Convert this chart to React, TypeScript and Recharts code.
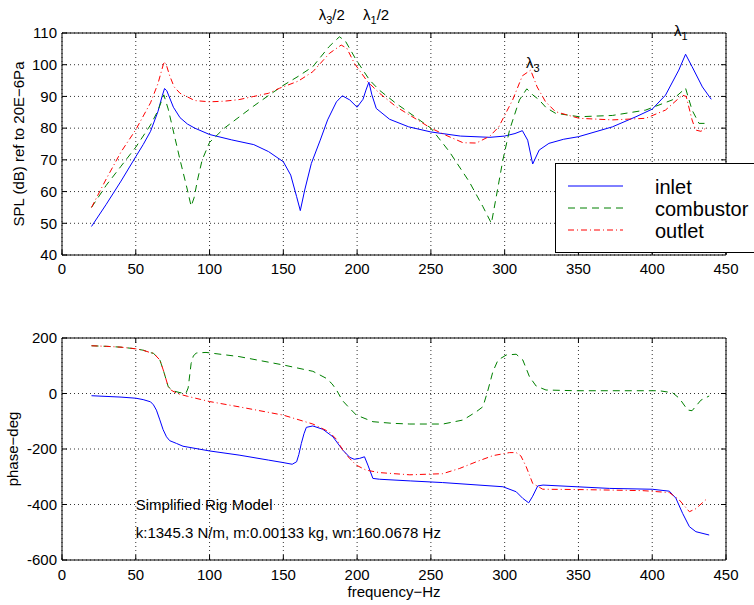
import React from 'react';
import {
  LineChart, Line, XAxis, YAxis, CartesianGrid, Legend, ReferenceDot,
} from 'recharts';

const FONT = '"Liberation Sans", Arial, Helvetica, sans-serif';

// ---------- axis ticks ----------
const freqTicks = [0, 50, 100, 150, 200, 250, 300, 350, 400, 450];
const splTicks = [40, 50, 60, 70, 80, 90, 100, 110];
const phaseTicks = [-600, -400, -200, 0, 200];

// ---------- series names (legend order) ----------
const seriesNames = ['inlet', 'combustor', 'outlet'];

// ---------- SPL (dB) : [frequency Hz, SPL] ----------
const inletSpl: [number, number][] = [
  [20, 49], [30, 56], [40, 63.3], [50, 71], [55, 74.8], [60, 79], [65, 85.2], [68, 90.3],
  [69.5, 92.5], [71, 91.8], [73, 89.5], [75.5, 86.6], [80, 83.3], [85, 81.3], [90, 80],
  [100, 78], [115, 76.3], [130, 74.8], [140, 72.6], [150, 69.4], [155, 65.2], [159, 58.4],
  [161.5, 54], [164.5, 60.5], [169, 68.9], [175, 76.2], [180, 82.6], [186, 88.3], [190, 90.2],
  [195, 88.9], [200, 86.6], [204, 89.1], [206, 92], [208, 94.5], [210, 90.5], [213, 86.2],
  [222, 82.8], [235, 80.4], [250, 78.8], [270, 77.5], [290, 77.1], [300, 77.5], [307, 78.3],
  [312, 79.2], [315.6, 76.2], [319, 68.7], [323.4, 73.1], [330, 75.2], [340, 76.5],
  [350, 77.3], [373, 80.4], [389, 83.6], [400, 86], [409, 90.4], [418, 98.3], [422.6, 103.3],
  [427, 99.4], [434, 93], [440, 89.1],
];
const combustorSpl: [number, number][] = [
  [20, 55], [30, 62], [40, 68], [50, 74], [60, 81], [65, 85.5], [69, 90.5], [72, 86], [75, 80],
  [80, 70], [85, 60.5], [87.5, 55.4], [89.5, 58], [92, 64], [95, 70], [100, 75.5], [110, 80],
  [120, 83.5], [130, 87], [140, 90.3], [150, 93.5], [160, 96.3], [170, 99.4], [181, 105.7],
  [188, 108.8], [192, 107.5], [199.4, 101.5], [208.4, 95.2], [215, 92], [226.4, 87.8],
  [250, 80], [262.5, 72.6], [276, 63.1], [285.3, 55.2], [291, 50], [294.3, 58.4], [298.8, 70],
  [303.3, 79.4], [310, 88.9], [315, 92.4], [319, 90.5], [323.4, 88.9], [328, 86.5],
  [334.4, 84.7], [350.5, 83.6], [373, 84], [395.6, 85.7], [413.6, 88.9], [422.6, 92.6],
  [427, 85.7], [431.7, 81.5], [436, 81.5],
];
const outletSpl: [number, number][] = [
  [20, 55], [30, 64], [40, 72.5], [50, 79.5], [60, 88], [65, 94], [69.2, 101], [71, 99.5],
  [73, 96.5], [76, 93], [80, 91], [90, 88.7], [100, 88.3], [110, 88.5], [120, 89], [130, 90],
  [140, 91], [147.5, 92.6], [160, 94.8], [170, 97.8], [181.3, 103.6], [189.2, 106.2],
  [193, 105.2], [198.2, 100.4], [207, 94.7], [215.2, 91], [226.6, 86.7], [250, 80],
  [260, 77.8], [271.8, 75.4], [280.8, 75.3], [290, 77.5], [296, 80.4], [305.4, 88.9],
  [312, 96.5], [317.6, 98.3], [322, 93], [327.6, 88.4], [334.4, 85.2], [350.5, 83.1],
  [373, 82.6], [395.6, 83.1], [409, 85.7], [420.4, 90.4], [423, 90], [427, 82.6],
  [429.4, 79.4], [433, 79], [436, 79.9],
];

// ---------- phase (deg) : [frequency Hz, phase] ----------
const inletPhase: [number, number][] = [
  [20, -8], [40, -13], [50, -17], [55, -22], [60, -30], [62, -41], [64, -60], [66.3, -95],
  [68.5, -130], [70.8, -156], [73, -170], [77.6, -180], [82, -190], [100, -207], [120, -222],
  [140, -240], [150, -249], [156, -255], [159, -246], [160.5, -220], [162.2, -180],
  [164, -145], [165.6, -122], [170, -117], [176.8, -129], [183.6, -156], [190.3, -204],
  [195, -230], [198, -237], [201.6, -234], [205, -228], [207.3, -258], [210.7, -306],
  [215.2, -309], [236, -315], [258, -321], [298.8, -336], [307.8, -354], [312.3, -378],
  [316.3, -394], [319, -370], [322.4, -333], [326, -330], [371, -342], [400, -345],
  [411.6, -352], [416, -377], [420.6, -432], [425.2, -480], [429.6, -498], [438.6, -510],
];
const combustorPhase: [number, number][] = [
  [20, 172], [30, 170], [40, 167], [50, 161], [55, 156], [60, 147], [62, 145], [66.3, 121],
  [68.6, 85], [72, 24.5], [75, 10], [80, 3], [84, 1], [85.5, 20], [87.5, 108], [89, 135],
  [91, 146], [97.6, 148], [120, 133], [149.8, 103], [170, 80], [179, 55], [183, 35],
  [186, 13], [190, -25], [194, -48], [199.4, -77.5], [210.7, -101.6], [224, -107.5],
  [235.7, -110], [258.2, -110], [271.8, -95.5], [280.8, -65.6], [285.3, -47.5], [288.7, 12.6],
  [292, 78.6], [295.5, 120.7], [301.1, 138.7], [307.8, 141.5], [312.3, 120.7], [316.8, 60.6],
  [321.3, 27], [328, 12.6], [348.4, 10], [404.8, 10], [413.8, 2.6], [418.4, -17.4],
  [424, -59.5], [427, -62], [433, -24], [438.6, -9],
];
const outletPhase: [number, number][] = [
  [20, 172], [30, 170], [40, 167], [50, 161], [55, 156], [60, 147], [62, 145], [66.3, 121],
  [68.6, 85], [72, 24.5], [74, 12], [78, 0], [85, -10], [100, -29], [120, -48], [150, -78],
  [170, -110], [181, -138], [186, -165], [190.3, -204], [194.9, -234], [199.4, -258],
  [206, -276], [215, -285], [235.7, -293], [258, -289], [269.5, -270], [280.8, -246],
  [292, -224], [303.3, -213], [307.8, -213], [311, -225], [314.6, -264], [319, -324],
  [325.8, -345], [348.4, -346], [393.6, -350], [411.6, -357], [418.4, -384], [425.2, -426],
  [429.6, -415], [437.5, -377],
];

// ---------- annotations ----------
const lambdaTags = [
  { f: 174, spl: 114.1, sub: '3', tail: '/2' },
  { f: 204, spl: 114.1, sub: '1', tail: '/2' },
  { f: 314.4, spl: 98.9, sub: '3', tail: '' },
  { f: 414.8, spl: 109.0, sub: '1', tail: '' },
];
const noteLines = [
  { f: 50, phase: -400, text: 'Simplified Rig Model' },
  { f: 50, phase: -500, text: 'k:1345.3 N/m, m:0.00133 kg, wn:160.0678 Hz' },
];

const seriesStyle: Record<string, { color: string; dash?: string }> = {
  inlet: { color: '#0000ff' },
  combustor: { color: '#008000', dash: '7 5' },
  outlet: { color: '#ff0000', dash: '6 3 1 3' },
};

const pts = (arr: [number, number][]) => arr.map(([f, v]) => ({ f, v }));

const tickStyle = { fontSize: 15, fill: '#000', fontFamily: FONT };

// layout of the two axes boxes (pixels)
const BOX_LEFT = 62;
const BOX_RIGHT = 726;
const BOX_H = 222;
const TOP_BOX_Y = 33;
const BOTTOM_BOX_Y = 338;

const LambdaTag = (props: any) => {
  const vb = props.viewBox || {};
  const x = vb.x + (vb.width || 0) / 2;
  const y = vb.y + (vb.height || 0) / 2;
  return (
    <text x={x} y={y} fontSize={15} fontFamily={FONT} fill="#000" textAnchor="start">
      <tspan>λ</tspan>
      <tspan fontSize={11} dy={4}>{props.sub}</tspan>
      {props.tail ? <tspan dy={-4}>{props.tail}</tspan> : null}
    </text>
  );
};

const NoteText = (props: any) => {
  const vb = props.viewBox || {};
  const x = vb.x + (vb.width || 0) / 2;
  const y = vb.y + (vb.height || 0) / 2;
  return (
    <text x={x} y={y} dy="0.35em" fontSize={15} fontFamily={FONT} fill="#000" textAnchor="start">
      {props.text}
    </text>
  );
};

const RotLabel = (props: any) => {
  const vb = props.viewBox || {};
  const cx = props.bx;
  const cy = vb.y + vb.height / 2;
  return (
    <text x={cx} y={cy} transform={`rotate(-90 ${cx} ${cy})`} textAnchor="middle"
      fontSize={15} fontFamily={FONT} fill="#000">{props.text}</text>
  );
};

const XLabel = (props: any) => {
  const vb = props.viewBox || {};
  return (
    <text x={vb.x + vb.width / 2} y={vb.y + 37} textAnchor="middle" fontSize={15}
      fontFamily={FONT} fill="#000">{props.text}</text>
  );
};

const renderLegend = () => (
  <div style={{ width: 220, height: 88, border: '1px solid #000', background: '#fff' }}>
    <svg width={220} height={88} style={{ display: 'block' }}>
      {seriesNames.map((name, i) => {
        const y = 23 + i * 22;
        const st = seriesStyle[name];
        return (
          <g key={name}>
            <line x1={12} x2={67} y1={y - 1} y2={y - 1} stroke={st.color} strokeWidth={1}
              strokeDasharray={st.dash} />
            <text x={99} y={y + 7} fontSize={20} fontFamily={FONT} fill="#000">{name}</text>
          </g>
        );
      })}
    </svg>
  </div>
);

const axisLine = { stroke: '#000', strokeWidth: 1 };

// top and right edges of an axes box, with MATLAB-style inward ticks
const BoxFrame = ({ top, yTicks }: { top: number; yTicks: number[] }) => {
  const w = BOX_RIGHT - BOX_LEFT;
  const yMin = yTicks[0];
  const yMax = yTicks[yTicks.length - 1];
  return (
    <g stroke="#000" strokeWidth={1} fill="none">
      <path d={`M${BOX_LEFT},${top} H${BOX_RIGHT} V${top + BOX_H}`} />
      {freqTicks.slice(1, -1).map((f) => {
        const x = BOX_LEFT + (f / 450) * w;
        return <line key={`t${f}`} x1={x} x2={x} y1={top} y2={top + 5} />;
      })}
      {yTicks.slice(1, -1).map((v) => {
        const y = top + BOX_H - ((v - yMin) / (yMax - yMin)) * BOX_H;
        return <line key={`r${v}`} x1={BOX_RIGHT - 5} x2={BOX_RIGHT} y1={y} y2={y} />;
      })}
    </g>
  );
};

export default function App() {
  return (
    <div style={{ position: 'absolute', left: 0, top: 0, width: 754, height: 605, overflow: 'hidden', background: '#fff', fontFamily: FONT }}>
      <div style={{ position: 'absolute', left: 0, top: 0 }}>
        <LineChart width={754} height={300} margin={{ top: 33, right: 28, bottom: 15, left: 0 }} style={{ fontFamily: FONT }}>
          <CartesianGrid strokeDasharray="1 3" stroke="#333" />
          <XAxis dataKey="f" type="number" domain={[0, 450]} ticks={freqTicks} tick={tickStyle}
            tickSize={-5} tickMargin={13} height={30} axisLine={axisLine} tickLine={axisLine} />
          <YAxis type="number" domain={[40, 110]} ticks={splTicks} tick={tickStyle} tickSize={-5}
            tickMargin={10} width={62} axisLine={axisLine} tickLine={axisLine}
            label={<RotLabel bx={24} text="SPL (dB) ref to 20E−6Pa" />} />
          <Line data={pts(inletSpl)} dataKey="v" name="inlet" type="linear" stroke={seriesStyle.inlet.color}
            strokeWidth={1} dot={false} isAnimationActive={false} />
          <Line data={pts(combustorSpl)} dataKey="v" name="combustor" type="linear"
            stroke={seriesStyle.combustor.color} strokeDasharray={seriesStyle.combustor.dash}
            strokeWidth={1} dot={false} isAnimationActive={false} />
          <Line data={pts(outletSpl)} dataKey="v" name="outlet" type="linear"
            stroke={seriesStyle.outlet.color} strokeDasharray={seriesStyle.outlet.dash}
            strokeWidth={1} dot={false} isAnimationActive={false} />
          {lambdaTags.map((t, i) => (
            <ReferenceDot key={i} x={t.f} y={t.spl} r={1} fill="none" stroke="none" ifOverflow="visible"
              label={<LambdaTag sub={t.sub} tail={t.tail} />} />
          ))}
        </LineChart>
      </div>
      <div style={{ position: 'absolute', left: 0, top: 305 }}>
        <LineChart width={754} height={300} margin={{ top: 33, right: 28, bottom: 5, left: 0 }} style={{ fontFamily: FONT }}>
          <CartesianGrid strokeDasharray="1 3" stroke="#333" />
          <XAxis dataKey="f" type="number" domain={[0, 450]} ticks={freqTicks} tick={tickStyle}
            tickSize={-5} tickMargin={14} height={40} axisLine={axisLine} tickLine={axisLine}
            label={<XLabel text="frequency−Hz" />} />
          <YAxis type="number" domain={[-600, 200]} ticks={phaseTicks} tick={tickStyle} tickSize={-5}
            tickMargin={10} width={62} axisLine={axisLine} tickLine={axisLine}
            label={<RotLabel bx={18} text="phase−deg" />} />
          <Line data={pts(inletPhase)} dataKey="v" name="inlet" type="linear" stroke={seriesStyle.inlet.color}
            strokeWidth={1} dot={false} isAnimationActive={false} />
          <Line data={pts(combustorPhase)} dataKey="v" name="combustor" type="linear"
            stroke={seriesStyle.combustor.color} strokeDasharray={seriesStyle.combustor.dash}
            strokeWidth={1} dot={false} isAnimationActive={false} />
          <Line data={pts(outletPhase)} dataKey="v" name="outlet" type="linear"
            stroke={seriesStyle.outlet.color} strokeDasharray={seriesStyle.outlet.dash}
            strokeWidth={1} dot={false} isAnimationActive={false} />
          {noteLines.map((n, i) => (
            <ReferenceDot key={i} x={n.f} y={n.phase} r={1} fill="none" stroke="none" ifOverflow="visible"
              label={<NoteText text={n.text} />} />
          ))}
        </LineChart>
      </div>
      <svg width={754} height={605} style={{ position: 'absolute', left: 0, top: 0, pointerEvents: 'none' }}>
        <BoxFrame top={TOP_BOX_Y} yTicks={splTicks} />
        <BoxFrame top={BOTTOM_BOX_Y} yTicks={phaseTicks} />
      </svg>
      <div style={{ position: 'absolute', left: 0, top: 0 }}>
        <LineChart width={754} height={300} margin={{ top: 33, right: 28, bottom: 15, left: 0 }}
          style={{ fontFamily: FONT, pointerEvents: 'none' }}>
          <XAxis dataKey="f" type="number" domain={[0, 450]} hide />
          <YAxis type="number" domain={[40, 110]} width={62} hide />
          <Line data={[]} dataKey="v" name="inlet" stroke={seriesStyle.inlet.color} isAnimationActive={false} />
          <Line data={[]} dataKey="v" name="combustor" stroke={seriesStyle.combustor.color} isAnimationActive={false} />
          <Line data={[]} dataKey="v" name="outlet" stroke={seriesStyle.outlet.color} isAnimationActive={false} />
          <Legend layout="horizontal" verticalAlign="middle" align="center" content={renderLegend}
            wrapperStyle={{ position: 'absolute', left: 555, top: 163, width: 222, height: 90 }} />
        </LineChart>
      </div>
    </div>
  );
}
